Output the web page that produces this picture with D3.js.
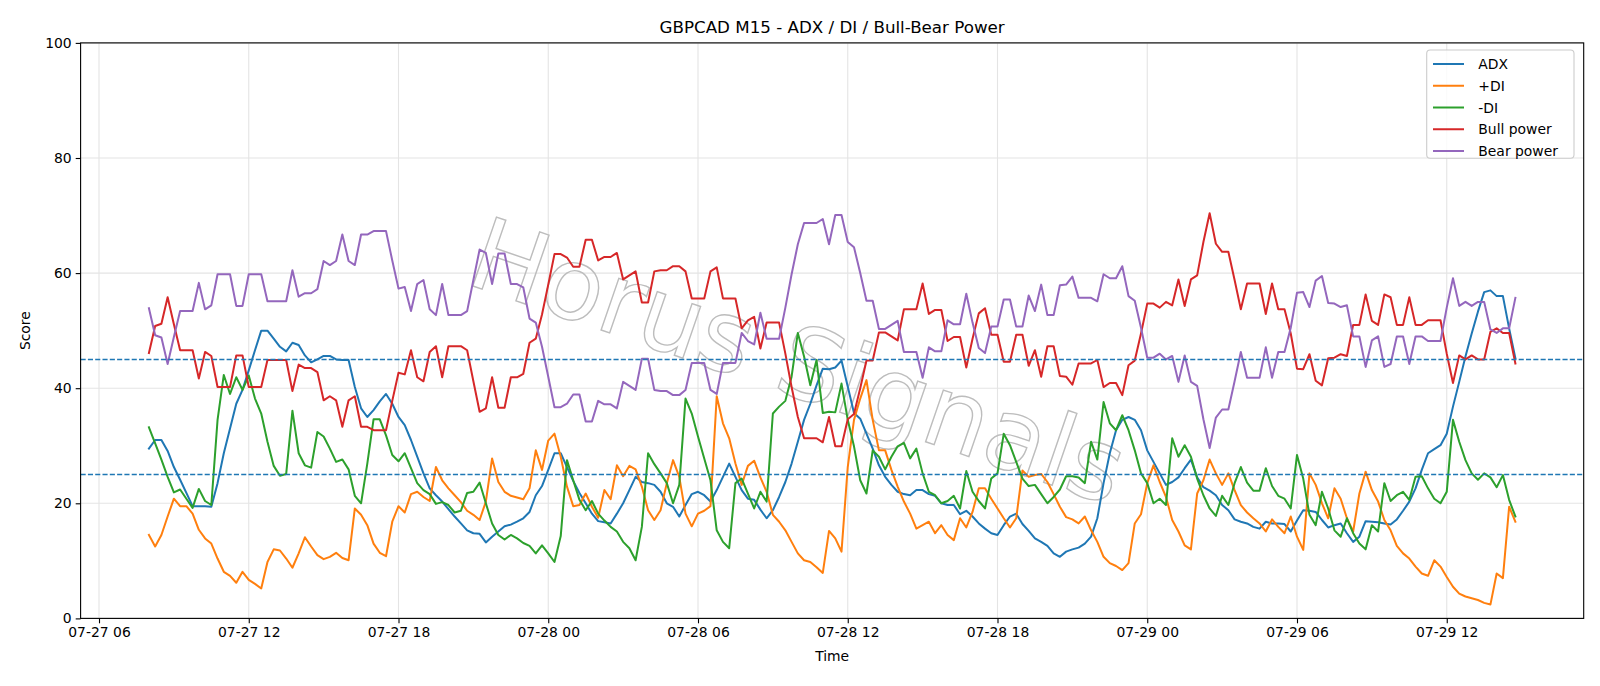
<!DOCTYPE html>
<html>
<head>
<meta charset="utf-8">
<script src="https://cdn.jsdelivr.net/npm/d3@7"></script>
<style>
  html, body { margin: 0; padding: 0; background: #ffffff; }
  svg { display: block; }
  text { font-family: "DejaVu Sans", sans-serif; fill: #000; }
</style>
</head>
<body>
<svg id="chart" width="1600" height="686"></svg>
<script>
// ---------------- data ----------------
const startTime = "2025-07-27T08:00:00Z";   // first bar (M15)
const stepMinutes = 15;

const adx = [
29.5,31.0,31.0,29.1,26.3,24.1,21.8,19.5,19.5,19.5,
19.4,23.5,28.7,33.0,37.3,39.7,43.1,46.6,50.0,50.0,
48.6,47.2,46.4,47.9,47.5,45.7,44.5,45.0,45.6,45.6,
45.0,44.9,44.9,40.2,36.5,35.0,36.2,37.7,39.0,37.3,
35.0,33.6,31.0,28.1,25.2,22.6,21.4,20.3,19.0,17.7,
16.5,15.3,14.8,14.7,13.2,14.2,15.1,16.0,16.3,16.8,
17.4,18.5,21.4,23.0,25.8,28.7,28.7,26.3,23.9,21.8,
20.0,18.2,16.9,16.7,16.5,18.2,20.0,22.3,24.6,23.7,
23.5,23.2,22.0,20.0,19.4,17.7,19.7,21.6,22.0,21.4,
20.3,22.3,24.6,26.9,24.6,22.3,20.8,20.6,18.9,17.4,
18.8,21.1,23.7,26.9,30.7,34.5,37.3,40.5,43.4,43.3,
43.6,44.8,40.3,35.7,34.7,32.1,29.5,26.6,24.6,23.2,
22.0,21.6,21.4,22.3,22.3,21.6,21.3,20.0,19.7,19.7,
18.1,18.7,17.7,16.5,15.6,14.8,14.5,16.2,17.7,18.2,
16.4,15.2,13.9,13.3,12.6,11.3,10.7,11.6,12.0,12.3,
13.0,14.2,17.4,23.5,28.7,32.7,34.5,35.0,34.5,32.7,
29.2,27.2,25.2,23.2,23.7,24.5,26.1,27.6,24.5,22.8,
22.2,21.4,19.7,18.8,17.2,16.8,16.5,15.9,15.6,16.8,
16.5,16.5,16.4,15.1,17.0,18.8,18.7,18.5,17.1,15.8,
16.2,16.5,14.8,13.3,14.2,16.9,16.8,16.7,16.5,16.3,
17.2,18.7,20.3,22.6,25.8,28.7,29.4,30.1,32.1,36.8,
41.1,45.5,49.5,53.3,56.7,57.0,56.0,56.0,50.4,45.2];

const plusDI = [
14.5,12.5,14.5,17.7,20.8,19.5,19.5,18.2,15.4,13.9,
13.0,10.4,8.1,7.4,6.2,8.1,6.7,6.0,5.2,9.8,
12.0,11.8,10.4,8.8,11.3,14.1,12.5,11.0,10.3,10.7,
11.4,10.5,10.1,19.1,18.0,16.2,13.0,11.4,10.8,16.8,
19.5,18.4,21.6,22.0,21.1,20.4,26.3,24.0,22.6,21.4,
20.2,18.7,18.0,17.1,20.3,27.8,23.7,22.0,21.3,21.0,
20.7,22.6,29.2,25.8,30.9,32.1,28.1,22.9,19.5,19.7,
21.7,19.4,17.5,22.3,20.7,26.6,24.7,26.5,25.9,22.9,
18.8,17.1,18.8,23.5,27.5,24.6,18.2,16.0,18.2,18.7,
19.5,38.6,33.9,31.3,26.9,23.2,26.5,27.4,24.5,22.0,
18.0,16.8,15.3,13.3,11.3,10.1,9.8,8.9,7.9,15.2,
13.9,11.6,26.3,34.5,38.2,41.4,34.5,29.2,29.2,25.8,
22.9,20.3,18.2,15.6,16.2,16.8,14.8,16.2,14.5,13.6,
17.4,15.8,18.5,22.6,22.6,20.8,19.1,17.4,15.8,17.4,
25.7,24.6,24.9,25.1,23.7,21.6,19.4,17.6,17.2,16.5,
17.7,15.3,13.3,10.7,9.6,9.1,8.4,9.6,16.5,18.1,
23.5,26.6,23.7,21.1,17.1,15.1,12.7,12.0,21.7,24.0,
27.6,25.2,23.2,25.2,22.3,19.7,18.4,17.4,16.5,15.1,
17.2,15.9,14.8,17.7,14.2,11.9,25.2,23.2,20.0,17.4,
22.6,20.8,17.4,15.1,21.7,25.5,22.3,20.3,17.1,15.3,
12.6,11.3,10.4,9.0,7.8,7.4,10.1,9.0,7.2,5.5,
4.3,3.8,3.5,3.2,2.7,2.4,7.8,7.0,19.4,16.8];

const minusDI = [
33.2,30.4,27.6,24.6,21.9,22.4,20.8,19.2,22.5,20.4,
19.7,34.5,42.3,39.0,41.9,39.7,42.2,38.2,35.6,30.7,
26.5,24.8,25.1,36.1,28.7,26.6,26.2,32.4,31.6,29.5,
27.2,27.6,25.9,21.3,20.0,26.9,34.6,34.6,31.8,28.4,
27.3,28.7,26.1,23.5,22.3,21.6,19.9,20.2,19.7,18.4,
18.7,21.8,22.0,23.6,20.0,16.5,14.5,13.7,14.5,13.9,
13.1,12.6,11.3,12.7,11.3,9.8,14.3,27.5,24.0,20.6,
18.8,20.4,18.2,17.0,15.9,15.1,13.3,12.2,10.1,15.9,
28.7,26.8,25.2,23.5,20.0,23.2,38.2,35.6,31.6,27.8,
24.0,15.3,13.3,12.2,23.5,24.3,21.7,19.1,22.0,20.3,
35.6,36.8,37.8,42.0,49.6,45.5,40.5,44.9,35.7,35.9,
35.8,40.8,34.5,29.9,24.0,21.7,29.2,28.1,25.9,28.1,
29.9,30.5,27.8,29.5,25.2,22.0,21.4,20.0,20.4,21.3,
19.1,25.6,22.0,20.4,19.1,24.3,25.2,32.1,30.1,27.2,
24.3,23.0,23.2,21.6,20.0,21.1,22.4,24.7,24.7,24.5,
23.5,30.7,27.6,37.6,33.9,32.7,35.3,32.7,29.2,25.2,
23.5,20.0,20.8,19.7,31.3,28.1,30.1,28.1,24.3,21.4,
19.1,17.8,21.3,19.7,23.5,26.3,23.6,22.2,22.2,26.1,
23.0,21.3,20.8,19.1,28.4,24.3,18.0,16.2,22.0,19.1,
15.3,14.2,17.4,14.8,13.0,12.0,16.2,15.1,23.5,20.4,
21.4,22.0,20.6,24.6,24.7,22.6,20.8,20.0,22.0,34.5,
30.7,27.5,25.2,24.1,25.2,24.5,22.8,24.9,20.6,17.7];

const bullPower = [
46.1,50.8,51.2,55.8,51.1,46.6,46.6,46.6,41.7,46.3,
45.6,40.2,40.2,40.2,45.7,45.7,40.2,40.2,40.2,44.9,
44.9,44.9,44.9,39.5,44.1,43.5,43.5,42.8,37.9,38.6,
37.9,33.3,37.9,38.6,33.3,33.3,32.7,32.7,32.7,37.8,
42.7,42.4,46.6,41.9,41.2,46.3,47.3,41.9,47.3,47.3,
47.3,46.6,41.2,35.9,36.5,41.9,36.6,36.6,41.9,41.9,
42.5,47.9,48.6,52.8,58.0,63.3,63.3,62.7,61.1,61.1,
65.8,65.8,62.2,62.8,62.8,63.5,58.9,59.6,60.3,54.9,
54.9,60.3,60.5,60.5,61.2,61.2,60.3,55.6,55.6,55.6,
60.3,61.0,55.6,55.6,55.6,50.4,51.8,52.4,46.9,51.4,
51.4,51.4,46.0,40.2,35.0,31.3,31.3,31.3,30.6,35.0,
29.9,29.9,34.6,35.5,40.0,44.8,44.8,49.7,49.7,49.0,
48.3,53.7,53.7,53.7,58.2,52.9,53.6,53.6,48.2,48.9,
48.9,43.6,48.6,53.0,53.9,49.3,49.3,44.6,44.6,49.3,
49.3,43.9,46.6,42.0,47.3,47.3,42.1,42.0,40.6,44.3,
44.3,44.3,44.9,40.2,40.9,40.9,38.8,44.0,44.8,49.5,
54.7,54.7,54.0,55.0,54.4,58.9,54.3,58.9,59.6,65.4,
70.4,65.1,63.7,63.7,58.8,53.7,58.2,58.2,58.2,52.9,
58.2,53.7,53.7,49.5,43.4,43.3,45.9,41.3,40.5,45.2,
45.3,45.9,45.6,51.0,51.0,56.3,51.7,51.0,56.3,55.8,
51.0,51.0,55.8,51.0,51.0,51.8,51.8,51.8,46.0,40.9,
45.7,45.0,45.7,45.0,45.0,49.8,50.4,49.6,49.6,44.3];

const bearPower = [
53.9,49.2,48.8,44.2,48.9,53.4,53.4,53.4,58.3,53.7,
54.4,59.8,59.8,59.8,54.3,54.3,59.8,59.8,59.8,55.1,
55.1,55.1,55.1,60.5,55.9,56.5,56.5,57.2,62.1,61.4,
62.1,66.7,62.1,61.4,66.7,66.7,67.3,67.3,67.3,62.2,
57.3,57.6,53.4,58.1,58.8,53.7,52.7,58.1,52.7,52.7,
52.7,53.4,58.8,64.1,63.5,58.1,63.4,63.4,58.1,58.1,
57.5,52.1,51.4,47.2,42.0,36.7,36.7,37.3,38.9,38.9,
34.2,34.2,37.8,37.2,37.2,36.5,41.1,40.4,39.7,45.1,
45.1,39.7,39.5,39.5,38.8,38.8,39.7,44.4,44.4,44.4,
39.7,39.0,44.4,44.4,44.4,49.6,48.2,47.6,53.1,48.6,
48.6,48.6,54.0,59.8,65.0,68.7,68.7,68.7,69.4,65.0,
70.1,70.1,65.4,64.5,60.0,55.2,55.2,50.3,50.3,51.0,
51.7,46.3,46.3,46.3,41.8,47.1,46.4,46.4,51.8,51.1,
51.1,56.4,51.4,47.0,46.1,50.7,50.7,55.4,55.4,50.7,
50.7,56.1,53.4,58.0,52.7,52.7,57.9,58.0,59.4,55.7,
55.7,55.7,55.1,59.8,59.1,59.1,61.2,56.0,55.2,50.5,
45.3,45.3,46.0,45.0,45.6,41.1,45.7,41.1,40.4,34.6,
29.6,34.9,36.3,36.3,41.2,46.3,41.8,41.8,41.8,47.1,
41.8,46.3,46.3,50.5,56.6,56.7,54.1,58.7,59.5,54.8,
54.7,54.1,54.4,49.0,49.0,43.7,48.3,49.0,43.7,44.2,
49.0,49.0,44.2,49.0,49.0,48.2,48.2,48.2,54.0,59.1,
54.3,55.0,54.3,55.0,55.0,50.2,49.6,50.4,50.4,55.7];

const seriesNames = ["ADX", "+DI", "-DI", "Bull power", "Bear power"];
const seriesColors = ["#1f77b4", "#ff7f0e", "#2ca02c", "#d62728", "#9467bd"];
const seriesValues = [adx, plusDI, minusDI, bullPower, bearPower];
const thresholds = [45, 25];
const yTicks = [0, 20, 40, 60, 80, 100];
const titleText = "GBPCAD M15 - ADX / DI / Bull-Bear Power";
const xLabel = "Time";
const yLabel = "Score";
const watermark = "Horus Signals";

// ---------------- layout ----------------
const W = 1600, H = 686;
const plot = { left: 80.6, right: 1583.7, top: 42.9, bottom: 618.4 };

const t0 = new Date(startTime);
const times = adx.map((_, i) => new Date(t0.getTime() + i * stepMinutes * 60000));
const tMin = times[0].getTime(), tMax = times[times.length - 1].getTime();
const pad = 0.05 * (tMax - tMin);

const x = d3.scaleUtc()
  .domain([new Date(tMin - pad), new Date(tMax + pad)])
  .range([plot.left, plot.right]);
const y = d3.scaleLinear().domain([0, 100]).range([plot.bottom, plot.top]);

const svg = d3.select("#chart");
svg.append("rect").attr("width", W).attr("height", H).attr("fill", "#ffffff");

const xTicks = x.ticks(d3.utcHour.every(6));
const fmt = d3.utcFormat("%m-%d %H");

// grid
const grid = svg.append("g");
grid.selectAll(".gx").data(xTicks).join("line")
  .attr("x1", d => x(d)).attr("x2", d => x(d))
  .attr("y1", plot.top).attr("y2", plot.bottom)
  .attr("stroke", "#e4e4e4").attr("stroke-width", 1.1);
grid.selectAll(".gy").data(yTicks).join("line")
  .attr("x1", plot.left).attr("x2", plot.right)
  .attr("y1", d => y(d)).attr("y2", d => y(d))
  .attr("stroke", "#e4e4e4").attr("stroke-width", 1.1);

// watermark
svg.append("text")
  .attr("transform", "translate(787,394) rotate(19)")
  .attr("text-anchor", "middle")
  .style("font-size", "100px")
  .style("fill", "none")
  .style("stroke", "#bdbdbd")
  .style("stroke-width", 1.4)
  .text(watermark);

// lines
const line = d3.line().x((d, i) => x(times[i])).y(d => y(d));
seriesValues.forEach((vals, k) => {
  svg.append("path")
    .datum(vals)
    .attr("d", line)
    .attr("fill", "none")
    .attr("stroke", seriesColors[k])
    .attr("stroke-width", 2.0)
    .attr("stroke-linejoin", "round")
    .attr("stroke-linecap", "square");
});

// threshold lines
svg.selectAll(".th").data(thresholds).join("line")
  .attr("x1", plot.left).attr("x2", plot.right)
  .attr("y1", d => y(d)).attr("y2", d => y(d))
  .attr("stroke", "#1f77b4").attr("stroke-width", 1.4)
  .attr("stroke-dasharray", "5.1,2.2");

// axes
const xAxis = d3.axisBottom(x).tickValues(xTicks).tickFormat(fmt).tickSize(4.9).tickPadding(4);
const yAxis = d3.axisLeft(y).tickValues(yTicks).tickFormat(d3.format("d")).tickSize(4.9).tickPadding(4);
const gx = svg.append("g").attr("transform", `translate(0,${plot.bottom})`).call(xAxis);
const gy = svg.append("g").attr("transform", `translate(${plot.left},0)`).call(yAxis);
[gx, gy].forEach(g => {
  g.select(".domain").remove();
  g.selectAll(".tick line").attr("stroke", "#000").attr("stroke-width", 1.1);
  g.selectAll(".tick text").style("font-size", "13.9px").style("font-family", "DejaVu Sans, sans-serif").attr("fill", "#000");
});

// spines
svg.append("rect")
  .attr("x", plot.left).attr("y", plot.top)
  .attr("width", plot.right - plot.left).attr("height", plot.bottom - plot.top)
  .attr("fill", "none").attr("stroke", "#000").attr("stroke-width", 1.1);

// title & labels
svg.append("text").attr("x", (plot.left + plot.right) / 2).attr("y", 33.3)
  .attr("text-anchor", "middle").style("font-size", "16.7px").text(titleText);
svg.append("text").attr("x", (plot.left + plot.right) / 2).attr("y", 660.5)
  .attr("text-anchor", "middle").style("font-size", "13.9px").text(xLabel);
svg.append("text")
  .attr("transform", `translate(29.5,${(plot.top + plot.bottom) / 2}) rotate(-90)`)
  .attr("text-anchor", "middle").style("font-size", "13.9px").text(yLabel);

// legend
const lg = svg.append("g");
lg.append("rect")
  .attr("x", 1426.7).attr("y", 50).attr("width", 147.3).attr("height", 108.3)
  .attr("rx", 3.5).attr("ry", 3.5)
  .attr("fill", "#ffffff").attr("fill-opacity", 0.8)
  .attr("stroke", "#cccccc").attr("stroke-width", 1.1);
seriesNames.forEach((name, k) => {
  const yy = 64 + k * 21.75;
  lg.append("line").attr("x1", 1433).attr("x2", 1464).attr("y1", yy).attr("y2", yy)
    .attr("stroke", seriesColors[k]).attr("stroke-width", 2.0);
  lg.append("text").attr("x", 1478.3).attr("y", yy).attr("dy", "0.36em")
    .style("font-size", "13.9px").text(name);
});
</script>
</body>
</html>
